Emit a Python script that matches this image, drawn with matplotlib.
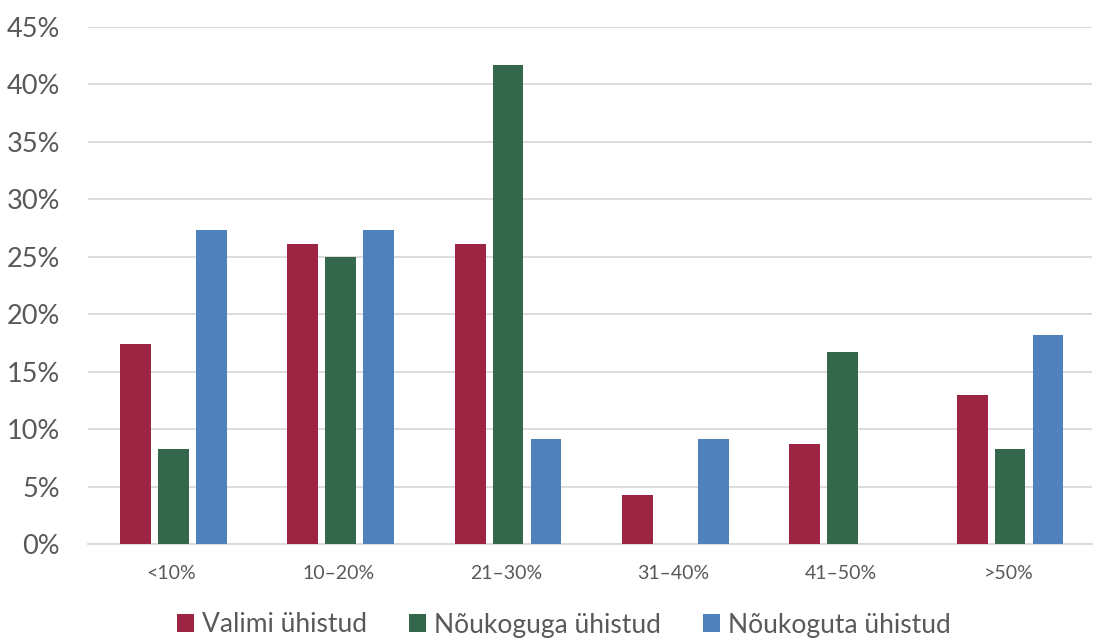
import numpy as np
import matplotlib
matplotlib.use("Agg")
import matplotlib.pyplot as plt
from matplotlib.ticker import MultipleLocator, FuncFormatter

categories = ["<10%", "10–20%", "21–30%", "31–40%", "41–50%", ">50%"]
valimi = [17.4, 26.1, 26.1, 4.3, 8.7, 13.0]
noukoguga = [8.3, 25.0, 41.7, 0.0, 16.7, 8.3]
noukoguta = [27.3, 27.3, 9.1, 9.1, 0.0, 18.2]
series_names = ["Valimi ühistud", "Nõukoguga ühistud", "Nõukoguta ühistud"]
colors = ["#9E2443", "#35674C", "#4F81BD"]

plt.rcParams['font.family'] = ['Lato', 'DejaVu Sans']

fig = plt.figure(figsize=(11.06, 6.39), dpi=100)
ax = fig.add_axes([88 / 1106, 1 - 544 / 639, (1092 - 88) / 1106, (544 - 27) / 639])

x = np.arange(len(categories))
width = 0.185
step = 0.227
for i, (vals, name, c) in enumerate(zip([valimi, noukoguga, noukoguta], series_names, colors)):
    ax.bar(x + (i - 1) * step + 0.01, vals, width, color=c, label=name, zorder=3)

ax.set_xlim(-0.5, len(categories) - 0.5)
ax.set_ylim(0, 45)
ax.yaxis.set_major_locator(MultipleLocator(5))
ax.yaxis.set_major_formatter(FuncFormatter(lambda v, p: f"{v:.0f}%"))
ax.grid(axis='y', color='#D9D9D9', linewidth=1.3, zorder=0)
ax.set_xticks(x)
ax.set_xticklabels(categories)
ax.tick_params(axis='x', length=0, labelsize=14, colors='#595959', pad=15)
ax.tick_params(axis='y', length=0, labelsize=19.5, colors='#595959', pad=20)
for s in ['top', 'right', 'left']:
    ax.spines[s].set_visible(False)
ax.spines['bottom'].set_color('#D9D9D9')
ax.spines['bottom'].set_linewidth(1.3)

handles, labels = ax.get_legend_handles_labels()
leg = fig.legend(handles, labels, loc='center', bbox_to_anchor=(564 / 1106, 1 - 625 / 639), ncol=3,
                 frameon=False, fontsize=19, handlelength=0.65, handleheight=0.65, handletextpad=0.3,
                 columnspacing=1.6, borderpad=0)
for t in leg.get_texts():
    t.set_color('#595959')

fig.savefig("out.png", dpi=100)
